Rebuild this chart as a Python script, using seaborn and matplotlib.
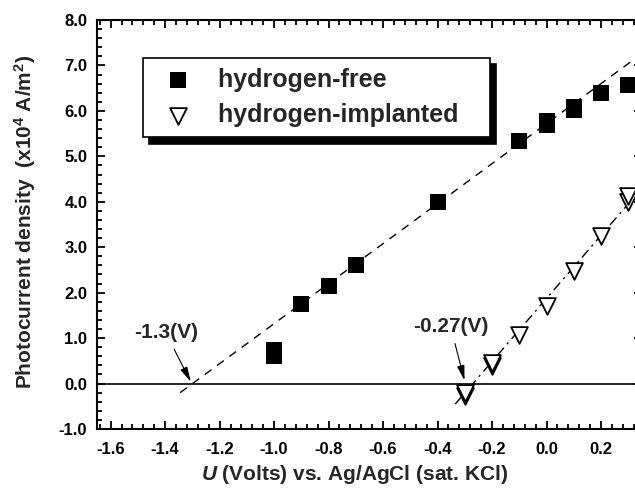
"""
Photocurrent density vs. electrode potential
hydrogen-free vs hydrogen-implanted samples with linear fits
"""

import matplotlib
matplotlib.use("Agg")

import matplotlib.pyplot as plt
from matplotlib.ticker import MultipleLocator, FormatStrFormatter
import seaborn as sns

sns.set_style("ticks")
plt.rcParams['font.family'] = ['Liberation Sans', 'DejaVu Sans']
plt.rcParams['font.weight'] = 'bold'
plt.rcParams['axes.labelweight'] = 'bold'
plt.rcParams['mathtext.fontset'] = 'custom'
plt.rcParams['mathtext.rm'] = 'Liberation Sans:bold'
plt.rcParams['mathtext.bf'] = 'Liberation Sans:bold'
plt.rcParams['mathtext.it'] = 'Liberation Sans:bold:italic'

# data
free_u = [-1.0, -1.0, -0.9, -0.8, -0.7, -0.4, -0.1, 0.0, 0.0, 0.1, 0.1, 0.2, 0.3]
free_j = [0.73, 0.60, 1.75, 2.15, 2.60, 4.00, 5.33, 5.70, 5.77, 6.02, 6.09, 6.40, 6.58]

impl_u = [-0.3, -0.3, -0.2, -0.2, -0.1, 0.0, 0.1, 0.2, 0.3, 0.3]
impl_j = [-0.28, -0.20, 0.38, 0.45, 1.07, 1.71, 2.48, 3.25, 4.00, 4.12]

# fitted lines (end points)
free_fit_u = [-1.345, 0.35]
free_fit_j = [-0.20, 7.26]
impl_fit_u = [-0.335, 0.35]
impl_fit_j = [-0.45, 4.30]

labels = ['hydrogen-free   ', 'hydrogen-implanted   ']
onset_labels = ['-1.3(V)', '-0.27(V)']
onset_points = [(-1.306, 0.04), (-0.301, 0.07)]
onset_text = [(-1.398, 1.12), (-0.352, 1.25)]

fig = plt.figure(figsize=(6.35, 4.95), dpi=100)
ax = fig.add_axes([0.1528, 0.1333, 0.858, 0.8263])

ax.axhline(0, color='black', lw=1.2, zorder=1)

sns.lineplot(x=free_fit_u, y=free_fit_j, ax=ax, color='black', lw=1.0,
             linestyle=(0, (6, 5)), zorder=2)
sns.lineplot(x=impl_fit_u, y=impl_fit_j, ax=ax, color='black', lw=1.0,
             linestyle=(0, (7, 3.5, 1.5, 3.5)), zorder=2)

sns.scatterplot(x=free_u, y=free_j, ax=ax, marker='s', s=125, color='black',
                linewidth=0, label=labels[0], zorder=3)
sns.scatterplot(x=impl_u, y=impl_j, ax=ax, marker='v', s=145, facecolor='white',
                edgecolor='black', linewidth=1.3, label=labels[1], zorder=3)

for txt, xy, xyt in zip(onset_labels, onset_points, onset_text):
    ax.annotate(txt, xy=xy, xytext=xyt, ha='center', va='center', fontsize=15,
                arrowprops=dict(arrowstyle='-|>,head_length=0.6,head_width=0.15',
                                color='black', lw=0.8, shrinkA=3, shrinkB=0))

ax.set_xlim(-1.65, 0.35)
ax.set_ylim(-1.0, 8.0)
ax.xaxis.set_major_locator(MultipleLocator(0.2))
ax.xaxis.set_minor_locator(MultipleLocator(0.04))
ax.yaxis.set_major_locator(MultipleLocator(1.0))
ax.yaxis.set_minor_locator(MultipleLocator(0.2))
ax.xaxis.set_major_formatter(FormatStrFormatter('%.1f'))
ax.yaxis.set_major_formatter(FormatStrFormatter('%.1f'))

ax.tick_params(which='both', direction='in', top=True, right=True,
               width=1.3, colors='black', labelsize=12)
ax.tick_params(which='major', length=6)
ax.tick_params(which='minor', length=3.5)
ax.tick_params(axis='x', pad=9)
ax.tick_params(axis='y', pad=7)
for sp in ax.spines.values():
    sp.set_linewidth(1.5)
    sp.set_color('black')

ax.set_xlabel(r'$\mathit{U}$ (Volts) vs. Ag/AgCl (sat. KCl)', fontsize=15)
ax.set_ylabel(r'Photocurrent density  (x10$^4$ A/m$^2$)', fontsize=15)
ax.xaxis.set_label_coords(0.472, -0.082)
ax.yaxis.set_label_coords(-0.109, 0.506)

leg = ax.legend(loc='upper left', bbox_to_anchor=(0.0844, 0.907), borderaxespad=0,
                fontsize=18, frameon=True, fancybox=False, framealpha=1,
                edgecolor='black', handletextpad=0.6, labelspacing=0.45,
                borderpad=0.4,
                shadow={'ox': 4.5, 'oy': -4.5, 'shade': 1.0, 'alpha': 1})
leg.get_frame().set_linewidth(1.2)

plt.savefig('out.png', dpi=100)
plt.close()
